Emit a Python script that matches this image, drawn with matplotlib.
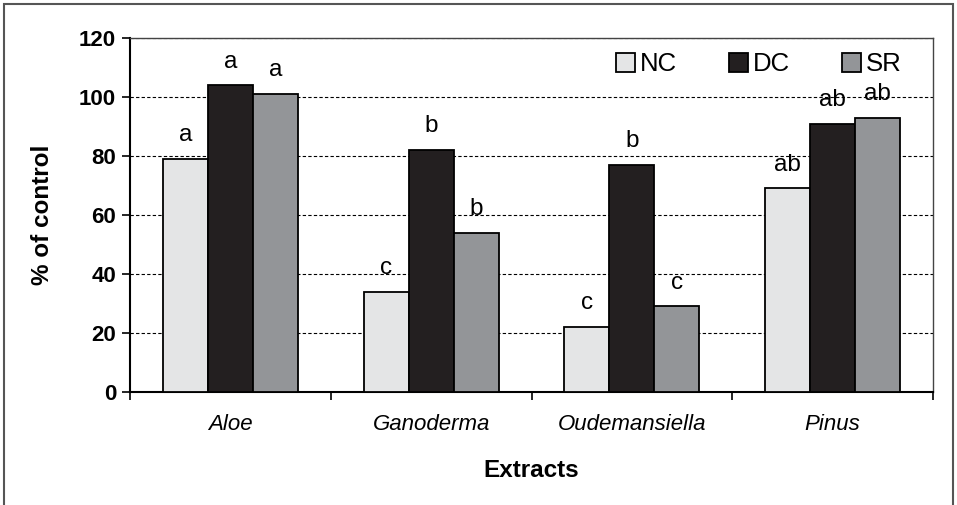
import numpy as np
import matplotlib
matplotlib.use("Agg")
import matplotlib.pyplot as plt
from matplotlib.patches import Rectangle

plt.rcParams["font.family"] = ["Liberation Sans", "DejaVu Sans"]

# data
extracts = ["Aloe", "Ganoderma", "Oudemansiella", "Pinus"]
series = ["NC", "DC", "SR"]
nc = [79, 34, 22, 69]
dc = [104, 82, 77, 91]
sr = [101, 54, 29, 93]
nc_letters = ["a", "c", "c", "ab"]
dc_letters = ["a", "b", "b", "ab"]
sr_letters = ["a", "b", "c", "ab"]

colors = ["#e4e5e6", "#231f20", "#939598"]

fig = plt.figure(figsize=(9.57, 5.05), dpi=100)
ax = fig.add_axes([130 / 957, 113 / 505, 803 / 957, 354 / 505])

# outer frame of the figure
fig.patches.append(Rectangle((4 / 957, -0.05), 949 / 957, 1.05 - 4 / 505,
                             transform=fig.transFigure, fill=False,
                             edgecolor="#555555", linewidth=1.5))

x = np.arange(len(extracts))
w = 0.224
for i, (vals, letters) in enumerate(zip([nc, dc, sr], [nc_letters, dc_letters, sr_letters])):
    pos = x + (i - 1) * w
    ax.bar(pos, vals, width=w, color=colors[i], edgecolor="black",
           linewidth=1.3, label=series[i], zorder=3)
    for px, v, lt in zip(pos, vals, letters):
        ax.annotate(lt, (px, v), xytext=(0, 17), textcoords="offset points",
                    ha="center", va="center", fontsize=17.5, zorder=4)

ax.set_xlim(-0.5, 3.5)
ax.set_ylim(0, 120)
ax.set_yticks(range(0, 121, 20))
ax.set_yticklabels([str(t) for t in range(0, 121, 20)], fontsize=16, fontweight="bold")
ax.yaxis.grid(True, linestyle=(0, (3, 2)), color="black", linewidth=0.8, zorder=0)

ax.set_xticks([-0.5, 0.5, 1.5, 2.5, 3.5])
ax.set_xticklabels([])
ax.set_xticks(x, minor=True)
ax.set_xticklabels(extracts, minor=True, fontsize=16, style="italic")
ax.tick_params(axis="x", which="minor", length=0, pad=16)
ax.tick_params(axis="x", which="major", length=6, width=1.2)
ax.tick_params(axis="y", length=6, width=1.2, pad=4)

for s in ["left", "bottom"]:
    ax.spines[s].set_linewidth(1.5)
for s in ["top", "right"]:
    ax.spines[s].set_linewidth(1.0)
    ax.spines[s].set_color("#444444")

ax.set_ylabel("% of control", fontsize=17.5, fontweight="bold")
ax.yaxis.set_label_coords(-0.095, 0.5)
ax.set_xlabel("Extracts", fontsize=17.5, fontweight="bold")
ax.xaxis.set_label_coords(0.5, -0.19)

ax.legend(loc="upper right", ncol=3, frameon=False, fontsize=18.5,
          handlelength=0.75, handleheight=0.75, handletextpad=0.2,
          columnspacing=2.0, bbox_to_anchor=(0.99, 1.025))

fig.savefig("out.png", dpi=100)
